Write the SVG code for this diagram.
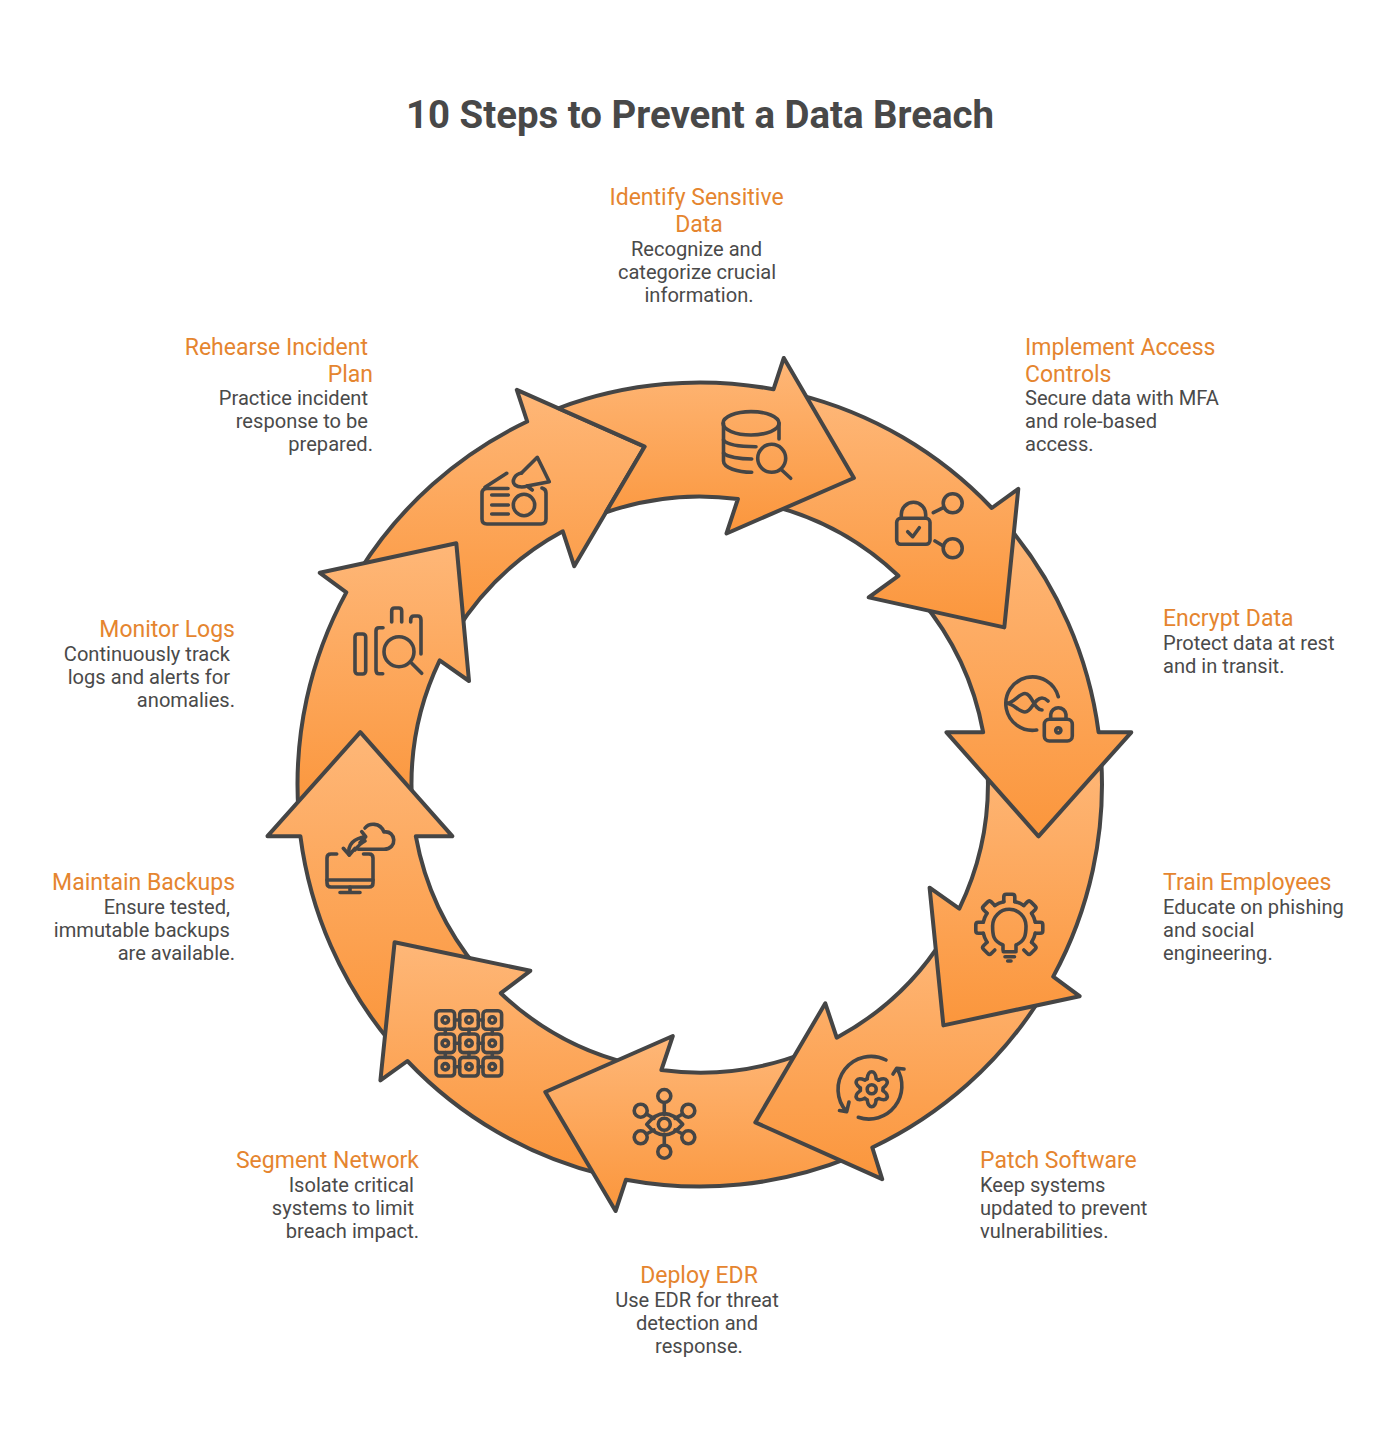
<svg xmlns="http://www.w3.org/2000/svg" xmlns:xlink="http://www.w3.org/1999/xlink" width="1400" height="1450" viewBox="0 0 1400 1450">
<style>
text{font-family:Roboto,"Liberation Sans",sans-serif}
.title{font-size:38.4px;font-weight:700;fill:#484848;text-anchor:middle}
.h{font-size:23px;fill:#E5852F}
.b{font-size:20.1px;fill:#4A4A4A}
.m{text-anchor:middle}.e{text-anchor:end}
.arrow{fill:url(#g);stroke:#454545;stroke-width:4;stroke-linejoin:round}
.ic{fill:none;stroke:#454545;stroke-width:3.6;stroke-linecap:round;stroke-linejoin:round}
</style>
<defs>
<linearGradient id="g" x1="0" y1="0" x2="0" y2="1"><stop offset="0" stop-color="#FEB778"/><stop offset="1" stop-color="#FB963C"/></linearGradient>
<path id="tooth" d="M-5.5 -26V-31Q-5.5 -33.5 -3 -33.5H3Q5.5 -33.5 5.5 -31V-26"/>
<path id="gap" d="M5.5 -26A26.6 26.6 0 0 1 14.5 -22.3"/>
<path id="lobe" d="M-4.5 -10.5C-4 -15 -2 -17.5 0 -17.5C2 -17.5 4 -15 4.5 -10.5L6.84 -9.15"/>
<g id="cell"><rect x="-9.3" y="-9.3" width="18.6" height="18.6" rx="3.5"/><circle r="3.2"/></g>
</defs>
<rect width="1400" height="1450" fill="#fff"/>
<text class="title" x="700" y="128">10 Steps to Prevent a Data Breach</text>

<g id="step-10">
<path class="arrow" d="M359.1 571.5A402 402 0 0 1 527.2 421.5L516.8 389.8L644.7 446.6L574.2 566.2L562.8 531.3A288 288 0 0 0 455.8 631.9Z"/>
<g class="ic">
<path d="M508 488.5H487Q482 488.5 482 493.5V519Q482 524 487 524H541Q546 524 546 519V493Q546 489 542 488"/>
<path d="M485 487.3L506.7 473.3M491.7 495H508.3M491.7 505H508.3M491.7 514H508.3"/>
<circle cx="524" cy="505" r="10.7"/>
<path d="M521.5 473L537.3 457.3L549.3 481.7L527 486L532.3 490"/>
<path d="M521.5 473C515 474 511 481 515 485C519 488 525 487 527 486"/>
</g>
<text class="h e" x="368" y="355">Rehearse Incident</text><text class="h e" x="373" y="382">Plan</text>
<text class="b e" x="368" y="405">Practice incident</text><text class="b e" x="368" y="428">response to be</text><text class="b e" x="373" y="451">prepared.</text>
</g>

<g id="step-9">
<path class="arrow" d="M298.5 812.5A402 402 0 0 1 346.3 592.4L319.8 572.8L456.3 543.3L469 681L439.7 660.3A288 288 0 0 0 412.2 804.6Z"/>
<g class="ic">
<rect x="355" y="634" width="10.7" height="40" rx="3"/>
<path d="M383 627.7H379Q376 627.7 376 631V670Q376 673.7 379 673.7H382.7"/>
<path d="M391.7 622V611Q391.7 608 394.7 608H398.7Q401.7 608 401.7 611V622"/>
<path d="M410.7 622V620Q410.7 616 414 616H417.7Q421 616 421 620V654"/>
<circle cx="399" cy="651.7" r="15"/>
<path d="M411.7 663.3L421.7 673.3"/>
</g>
<text class="h e" x="235" y="637">Monitor Logs</text>
<text class="b e" x="230" y="661">Continuously track</text><text class="b e" x="230" y="684">logs and alerts for</text><text class="b e" x="235" y="707">anomalies.</text>
</g>

<g id="step-8">
<path class="arrow" d="M391.05 1042.9A402 402 0 0 1 300.4 836.2L267.5 836.2L360.3 732.2L452.3 836.2L415.8 836.2A288 288 0 0 0 478.4 969.6Z"/>
<g class="ic">
<path d="M336.7 854H331Q327 854 327 858V883Q327 887 331 887H369Q373 887 373 883V858Q373 854 369 854H363.5"/>
<path d="M327 880H373M350 887V892.5M340 892.5H360"/>
<path d="M358.3 849.3H384C398 849 396 830 384 832C380 822 369 823 365 828"/>
<path d="M349.3 855C347 845 354 838 365.7 836.7M361.7 831.7L365.7 836.7L360 842.7"/>
<path d="M343.3 848.3L349.3 855L355 848.3M355 850C358 846 361 843 365 841"/>
</g>
<text class="h e" x="235" y="890">Maintain Backups</text>
<text class="b e" x="230" y="914">Ensure tested,</text><text class="b e" x="230" y="937">immutable backups</text><text class="b e" x="235" y="960">are available.</text>
</g>

<g id="step-7">
<path class="arrow" d="M602.8 1174.6A402 402 0 0 1 407.4 1061L380.4 1080.4L394.6 942.2L530.3 970.8L500.8 993.2A288 288 0 0 0 630.3 1063.9Z"/>
<g class="ic">
<use xlink:href="#cell" x="445.3" y="1020"/><use xlink:href="#cell" x="469" y="1020"/><use xlink:href="#cell" x="492.3" y="1020"/>
<use xlink:href="#cell" x="445.3" y="1043.3"/><use xlink:href="#cell" x="469" y="1043.3"/><use xlink:href="#cell" x="492.3" y="1043.3"/>
<use xlink:href="#cell" x="445.3" y="1066.7"/><use xlink:href="#cell" x="469" y="1066.7"/><use xlink:href="#cell" x="492.3" y="1066.7"/>
<path d="M454.6 1020H459.7M478.3 1020H483M454.6 1043.3H459.7M478.3 1043.3H483M454.6 1066.7H459.7M478.3 1066.7H483M445.3 1029.3V1034M469 1029.3V1034M492.3 1029.3V1034M445.3 1052.6V1057.4M469 1052.6V1057.4M492.3 1052.6V1057.4"/>
</g>
<text class="h e" x="419" y="1168">Segment Network</text>
<text class="b e" x="414" y="1192">Isolate critical</text><text class="b e" x="414" y="1215">systems to limit</text><text class="b e" x="419" y="1238">breach impact.</text>
</g>

<g id="step-6">
<path class="arrow" d="M850.6 1157.2A402 402 0 0 1 626 1179.7L615.6 1211L545.3 1092L672.8 1036L661.4 1070A288 288 0 0 0 807.9 1051.5Z"/>
<g class="ic">
<circle cx="664.3" cy="1096" r="6.5"/><circle cx="664.3" cy="1151.7" r="6.5"/>
<circle cx="640.7" cy="1110.7" r="6.5"/><circle cx="688.3" cy="1110.7" r="6.5"/>
<circle cx="640.7" cy="1137.3" r="6.5"/><circle cx="688.3" cy="1137.3" r="6.5"/>
<path d="M646.7 1124.3Q664.3 1103 682.7 1124.3Q664.3 1145.6 646.7 1124.3Z"/>
<circle cx="664.3" cy="1124.3" r="6"/>
<path d="M664.3 1102.5V1114.5M664.3 1134V1145.2M646.4 1114L654 1118.4M682.6 1114L675 1118.4M646.4 1134L654 1130M682.6 1134L675 1130"/>
</g>
<text class="h m" x="699" y="1283">Deploy EDR</text>
<text class="b m" x="697" y="1307">Use EDR for threat</text><text class="b m" x="697" y="1330">detection and</text><text class="b m" x="699" y="1353">response.</text>
</g>

<g id="step-5">
<path class="arrow" d="M1040.9 997.5A402 402 0 0 1 872.3 1147.5L882.2 1179.2L755.3 1122.4L825.3 1003.3L836.7 1037.7A288 288 0 0 0 944.2 937.1Z"/>
<g class="ic">
<path d="M886 1060A33 33 0 0 0 846.7 1111.7M839.5 1110.5L846.7 1111.7L849 1102"/>
<path d="M858.3 1117.3A33 33 0 0 0 896.7 1068.3M893 1074L896.7 1068.3L904 1069"/>
<circle cx="871.7" cy="1089.3" r="4.5"/>
<use xlink:href="#lobe" transform="translate(871.7 1089.3)"/><use xlink:href="#lobe" transform="translate(871.7 1089.3) rotate(60)"/><use xlink:href="#lobe" transform="translate(871.7 1089.3) rotate(120)"/><use xlink:href="#lobe" transform="translate(871.7 1089.3) rotate(180)"/><use xlink:href="#lobe" transform="translate(871.7 1089.3) rotate(240)"/><use xlink:href="#lobe" transform="translate(871.7 1089.3) rotate(300)"/>
</g>
<text class="h" x="980" y="1168">Patch Software</text>
<text class="b" x="980" y="1192">Keep systems</text><text class="b" x="980" y="1215">updated to prevent</text><text class="b" x="980" y="1238">vulnerabilities.</text>
</g>

<g id="step-4">
<path class="arrow" d="M1101 756.5A402 402 0 0 1 1053.2 976.6L1079.6 996.2L943.4 1025.4L929.6 887.7L959.3 908.7A288 288 0 0 0 987.3 764.4Z"/>
<g class="ic">
<g transform="translate(1009.3 927.7)">
<use xlink:href="#tooth" transform="rotate(-135)"/><use xlink:href="#gap" transform="rotate(-135)"/>
<use xlink:href="#tooth" transform="rotate(-90)"/><use xlink:href="#gap" transform="rotate(-90)"/>
<use xlink:href="#tooth" transform="rotate(-45)"/><use xlink:href="#gap" transform="rotate(-45)"/>
<use xlink:href="#tooth"/><use xlink:href="#gap"/>
<use xlink:href="#tooth" transform="rotate(45)"/><use xlink:href="#gap" transform="rotate(45)"/>
<use xlink:href="#tooth" transform="rotate(90)"/><use xlink:href="#gap" transform="rotate(90)"/>
<use xlink:href="#tooth" transform="rotate(135)"/>
</g>
<path d="M1003 950V945C993 941 992.6 935 992.6 926A16.7 16.7 0 0 1 1026 926C1026 935 1025 941 1016 945V950"/>
<path d="M1003.3 951.7H1016M1005 956.7H1014.5M1007.7 961H1011"/>
</g>
<text class="h" x="1163" y="890">Train Employees</text>
<text class="b" x="1163" y="914">Educate on phishing</text><text class="b" x="1163" y="937">and social</text><text class="b" x="1163" y="960">engineering.</text>
</g>

<g id="step-3">
<path class="arrow" d="M1007.95 526.1A402 402 0 0 1 1098.6 732.3L1131.3 732.3L1038.5 836.3L946.5 732.3L983.2 732.3A288 288 0 0 0 920.6 599.4Z"/>
<g class="ic">
<path d="M1058.3 696.7A26.7 26.7 0 1 0 1036.7 730"/>
<path d="M1007 703.3C1014 703 1019 693.5 1025 693.5C1032 693.5 1034 710 1042 710"/>
<path d="M1007 703.3C1014 704 1019 712 1025 712C1032 712 1034 698 1042 698C1045 698 1047 700 1048 701"/>
<rect x="1044.3" y="719.3" width="28" height="21.7" rx="5"/>
<path d="M1050.7 719V714.5A7.7 7.7 0 0 1 1066 714.5V719"/>
<circle cx="1058.3" cy="730.3" r="2.6"/>
</g>
<text class="h" x="1163" y="626">Encrypt Data</text>
<text class="b" x="1163" y="650">Protect data at rest</text><text class="b" x="1163" y="673">and in transit.</text>
</g>

<g id="step-2">
<path class="arrow" d="M797.3 394.4A402 402 0 0 1 991.8 508L1018.3 488.8L1004.3 627.4L868.7 597.4L898.4 575.8A288 288 0 0 0 769.7 505.1Z"/>
<g class="ic">
<rect x="896.7" y="518.3" width="33.3" height="26" rx="4"/>
<path d="M901.3 518V514.5A12.2 12.2 0 0 1 925.7 514.5V518"/>
<path d="M907.7 531.7L912.7 536.7L919.3 527.7"/>
<circle cx="952.7" cy="503.3" r="9.5"/><circle cx="952.7" cy="548.3" r="9.5"/>
<path d="M933.3 512.7L943.3 507.7M935 541L943.3 546"/>
</g>
<text class="h" x="1025" y="355">Implement Access</text><text class="h" x="1025" y="382">Controls</text>
<text class="b" x="1025" y="405">Secure data with MFA</text><text class="b" x="1025" y="428">and role-based</text><text class="b" x="1025" y="451">access.</text>
</g>

<g id="step-1">
<path class="arrow" d="M558.4 408.25A402 402 0 0 1 773.5 389.3L783.8 358L853.9 478L726.5 533.5L737.9 499A288 288 0 0 0 605.9 512.3L644.7 446.6Z"/>
<g class="ic">
<ellipse cx="751" cy="423.3" rx="28" ry="11.7"/>
<path d="M779 423V439M723.5 423V461C723.5 468 738 472.3 751.7 472.3"/>
<path d="M723.5 440C727 445 740 446.7 756 446.7M723.5 453C727 457 740 459 751.7 459"/>
<circle cx="771.7" cy="458.3" r="14"/>
<path d="M781.7 470L790.7 478.3"/>
</g>
<text class="h m" x="696.5" y="205">Identify Sensitive</text><text class="h m" x="699" y="232">Data</text>
<text class="b m" x="696.5" y="256">Recognize and</text><text class="b m" x="697" y="279">categorize crucial</text><text class="b m" x="699" y="302">information.</text>
</g>
</svg>
